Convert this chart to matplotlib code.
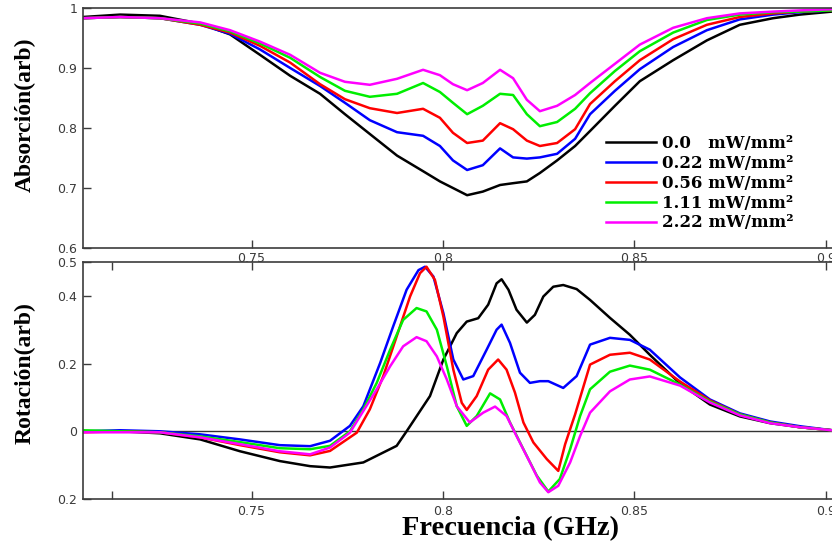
import numpy as np
import matplotlib
matplotlib.use("Agg")
import matplotlib.pyplot as plt

# Absorption and rotation spectra for five pump intensities
labels = ['0.0   mW/mm²', '0.22 mW/mm²', '0.56 mW/mm²', '1.11 mW/mm²', '2.22 mW/mm²']
colors = ['#000000', '#0000ff', '#ff0000', '#00ee00', '#ff00ff']

##1. Absorption (top panel)
f_abs = [0.7060, 0.7157, 0.7261, 0.7366, 0.7444, 0.7522, 0.7601, 0.7679, 0.7744, 0.7809,
         0.7880, 0.7948, 0.7992, 0.8026, 0.8063, 0.8104, 0.8149, 0.8183, 0.8219, 0.8253,
         0.8298, 0.8345, 0.8384, 0.8449, 0.8514, 0.8601, 0.8689, 0.8775, 0.8862, 0.8932, 0.9016]
abs_0 = [0.985, 0.989, 0.987, 0.974, 0.956, 0.922, 0.887, 0.857, 0.823, 0.790,
         0.754, 0.728, 0.711, 0.700, 0.688, 0.694, 0.705, 0.708, 0.711, 0.725,
         0.746, 0.770, 0.795, 0.837, 0.878, 0.913, 0.946, 0.972, 0.983, 0.989, 0.994]
abs_022 = [0.983, 0.985, 0.983, 0.972, 0.957, 0.931, 0.900, 0.870, 0.842, 0.813,
           0.793, 0.787, 0.770, 0.746, 0.730, 0.738, 0.766, 0.751, 0.749, 0.751,
           0.757, 0.782, 0.823, 0.862, 0.898, 0.935, 0.963, 0.981, 0.989, 0.993, 0.996]
abs_056 = [0.983, 0.985, 0.983, 0.972, 0.959, 0.937, 0.909, 0.873, 0.848, 0.833,
           0.825, 0.832, 0.817, 0.792, 0.775, 0.779, 0.808, 0.798, 0.779, 0.770,
           0.775, 0.798, 0.840, 0.878, 0.913, 0.948, 0.972, 0.985, 0.991, 0.994, 0.996]
abs_111 = [0.983, 0.985, 0.983, 0.974, 0.961, 0.941, 0.917, 0.885, 0.862, 0.852,
           0.857, 0.875, 0.860, 0.842, 0.823, 0.837, 0.857, 0.855, 0.823, 0.803,
           0.810, 0.832, 0.858, 0.895, 0.928, 0.959, 0.980, 0.989, 0.993, 0.994, 0.996]
abs_222 = [0.983, 0.985, 0.983, 0.976, 0.963, 0.944, 0.922, 0.892, 0.877, 0.872,
           0.882, 0.897, 0.888, 0.873, 0.863, 0.875, 0.897, 0.883, 0.847, 0.828,
           0.837, 0.855, 0.875, 0.907, 0.939, 0.967, 0.983, 0.991, 0.994, 0.996, 0.998]

##2. Rotation (bottom panel)
f_rot_0 = [0.7060, 0.7157, 0.7261, 0.7366, 0.7470, 0.7574, 0.7653, 0.7705, 0.7792, 0.7879,
           0.7905, 0.7966, 0.8001, 0.8036, 0.8062, 0.8092, 0.8118, 0.8140, 0.8153, 0.8171,
           0.8192, 0.8219, 0.8240, 0.8262, 0.8288, 0.8314, 0.8349, 0.8384, 0.8436, 0.8488,
           0.8540, 0.8619, 0.8697, 0.8775, 0.8854, 0.8932, 0.9016]
rot_0 = [0.0, 0.0, -0.006, -0.024, -0.059, -0.088, -0.103, -0.107, -0.092, -0.043,
         0.0, 0.104, 0.212, 0.290, 0.324, 0.334, 0.374, 0.437, 0.449, 0.418,
         0.359, 0.321, 0.344, 0.398, 0.427, 0.432, 0.420, 0.388, 0.335, 0.285,
         0.226, 0.141, 0.079, 0.044, 0.024, 0.012, 0.003]

f_rot_022 = [0.7060, 0.7157, 0.7261, 0.7366, 0.7470, 0.7574, 0.7653, 0.7705, 0.7757, 0.7792,
             0.7836, 0.7870, 0.7905, 0.7936, 0.7953, 0.7975, 0.8001, 0.8027, 0.8053, 0.8079,
             0.8114, 0.8140, 0.8153, 0.8175, 0.8201, 0.8227, 0.8253, 0.8275, 0.8314, 0.8349,
             0.8384, 0.8436, 0.8488, 0.8540, 0.8619, 0.8697, 0.8775, 0.8854, 0.8932, 0.9016]
rot_022 = [0.0, 0.003, 0.0, -0.009, -0.024, -0.041, -0.044, -0.028, 0.016, 0.074,
           0.202, 0.310, 0.418, 0.476, 0.486, 0.457, 0.349, 0.212, 0.153, 0.163,
           0.241, 0.300, 0.315, 0.261, 0.173, 0.143, 0.148, 0.148, 0.128, 0.163,
           0.256, 0.276, 0.270, 0.241, 0.159, 0.094, 0.053, 0.029, 0.015, 0.003]

f_rot_056 = [0.7060, 0.7157, 0.7261, 0.7366, 0.7470, 0.7574, 0.7653, 0.7705, 0.7775, 0.7809,
             0.7844, 0.7879, 0.7914, 0.7940, 0.7957, 0.7979, 0.8001, 0.8027, 0.8049, 0.8062,
             0.8088, 0.8118, 0.8144, 0.8166, 0.8188, 0.8210, 0.8236, 0.8271, 0.8301, 0.8319,
             0.8345, 0.8384, 0.8436, 0.8488, 0.8540, 0.8619, 0.8697, 0.8775, 0.8854, 0.8932,
             0.9016]
rot_056 = [-0.003, 0.0, -0.003, -0.018, -0.041, -0.062, -0.071, -0.058, -0.004, 0.065,
           0.163, 0.280, 0.398, 0.467, 0.486, 0.447, 0.339, 0.182, 0.084, 0.063,
           0.104, 0.182, 0.212, 0.182, 0.114, 0.026, -0.033, -0.082, -0.117, -0.038,
           0.050, 0.197, 0.226, 0.232, 0.212, 0.147, 0.091, 0.050, 0.026, 0.012,
           0.003]

f_rot_111 = [0.7060, 0.7157, 0.7261, 0.7366, 0.7470, 0.7574, 0.7653, 0.7705, 0.7757, 0.7792,
             0.7827, 0.7862, 0.7896, 0.7931, 0.7957, 0.7984, 0.8010, 0.8036, 0.8062, 0.8088,
             0.8123, 0.8149, 0.8175, 0.8210, 0.8245, 0.8275, 0.8305, 0.8332, 0.8358, 0.8384,
             0.8436, 0.8488, 0.8540, 0.8619, 0.8697, 0.8775, 0.8854, 0.8932, 0.9016]
rot_111 = [0.003, 0.0, -0.003, -0.015, -0.032, -0.050, -0.053, -0.043, 0.0, 0.065,
           0.143, 0.241, 0.329, 0.364, 0.354, 0.300, 0.192, 0.074, 0.016, 0.045,
           0.112, 0.094, 0.026, -0.053, -0.131, -0.178, -0.141, -0.053, 0.045, 0.124,
           0.176, 0.194, 0.182, 0.138, 0.088, 0.050, 0.026, 0.012, 0.003]

f_rot_222 = [0.7060, 0.7157, 0.7261, 0.7366, 0.7470, 0.7574, 0.7653, 0.7705, 0.7757, 0.7792,
             0.7827, 0.7862, 0.7896, 0.7931, 0.7957, 0.7984, 0.8010, 0.8036, 0.8070, 0.8105,
             0.8136, 0.8166, 0.8192, 0.8227, 0.8253, 0.8275, 0.8301, 0.8332, 0.8358, 0.8384,
             0.8436, 0.8488, 0.8540, 0.8619, 0.8697, 0.8775, 0.8854, 0.8932, 0.9016]
rot_222 = [-0.003, -0.003, -0.003, -0.018, -0.038, -0.059, -0.068, -0.048, -0.004, 0.060,
           0.124, 0.192, 0.251, 0.278, 0.266, 0.221, 0.153, 0.074, 0.026, 0.055,
           0.073, 0.045, -0.014, -0.092, -0.151, -0.180, -0.161, -0.092, -0.014, 0.055,
           0.118, 0.153, 0.162, 0.135, 0.085, 0.047, 0.024, 0.012, 0.003]

abs_series = [abs_0, abs_022, abs_056, abs_111, abs_222]
rot_series = [(f_rot_0, rot_0), (f_rot_022, rot_022), (f_rot_056, rot_056),
              (f_rot_111, rot_111), (f_rot_222, rot_222)]

# axis ranges / ticks
x_range = (0.7060, 0.9021)
abs_ticks = [0.6, 0.7, 0.8, 0.9, 1.0]
abs_ticklabels = ['0.6', '0.7', '0.8', '0.9', '1']
rot_ticks = [-0.2, 0.0, 0.2, 0.4, 0.5]
rot_ticklabels = ['0.2', '0', '0.2', '0.4', '0.5']
f_ticks = [0.75, 0.8, 0.85, 0.9]
f_ticklabels = ['0.75', '0.8', '0.85', '0.9']

#Figure
W, H = 832, 545
fig = plt.figure(figsize=(W / 100, H / 100), dpi=100)
left = 83 / W
width = (834 - 83) / W
ax1 = fig.add_axes([left, 1 - 248 / H, width, (248 - 8) / H])
ax2 = fig.add_axes([left, 1 - 499 / H, width, (499 - 262) / H])

spine_col = '#3c3c3c'
tick_col = '#3a3a3a'

for ax in (ax1, ax2):
    for s in ax.spines.values():
        s.set_color(spine_col)
        s.set_linewidth(1.2)
    ax.set_xlim(*x_range)
    ax.tick_params(direction='in', length=6, width=1, colors=spine_col,
                   labelcolor=tick_col, labelsize=9)

##Top: absorption
for vals, c, lab in zip(abs_series, colors, labels):
    ax1.plot(f_abs, vals, color=c, lw=1.8, label=lab, solid_joinstyle='round')
ax1.set_ylim(0.6, 1.0)
ax1.set_yticks(abs_ticks)
ax1.set_yticklabels(abs_ticklabels)
ax1.set_xticks(f_ticks)
ax1.set_xticklabels(f_ticklabels)
ax1.tick_params(axis='x', pad=3)
ax1.tick_params(axis='y', pad=4)

leg = ax1.legend(loc='upper left', bbox_to_anchor=(606 / W, 1 - 135 / H),
                 bbox_transform=fig.transFigure, frameon=False,
                 prop={'family': 'DejaVu Serif', 'weight': 'bold', 'size': 12},
                 handlelength=3.0, handletextpad=0.35, labelspacing=0.17,
                 borderpad=0, borderaxespad=0)

##Bottom: rotation
for (fx, vals), c in zip(rot_series, colors):
    ax2.plot(fx, vals, color=c, lw=1.8, solid_joinstyle='round')
ax2.axhline(0, color='#333333', lw=1.0, zorder=0)
ax2.set_ylim(-0.2, 0.5)
ax2.set_yticks(rot_ticks)
ax2.set_yticklabels(rot_ticklabels)
ax2.set_xticks([0.7137] + f_ticks)
ax2.set_xticklabels([''] + f_ticklabels)
ax2.tick_params(axis='x', top=True, pad=4)
ax2.tick_params(axis='y', pad=4)

##Axis titles
title_font = {'family': 'Liberation Serif', 'weight': 'bold'}
fig.text(25 / W, 1 - 115 / H, 'Absorción(arb)', rotation=90, ha='center', va='center',
         fontsize=17, **title_font)
fig.text(25 / W, 1 - 373 / H, 'Rotación(arb)', rotation=90, ha='center', va='center',
         fontsize=17, **title_font)
fig.text(510 / W, 1 - 529 / H, 'Frecuencia (GHz)', ha='center', va='center',
         fontsize=20.5, **title_font)

fig.savefig('out.png', dpi=100)
